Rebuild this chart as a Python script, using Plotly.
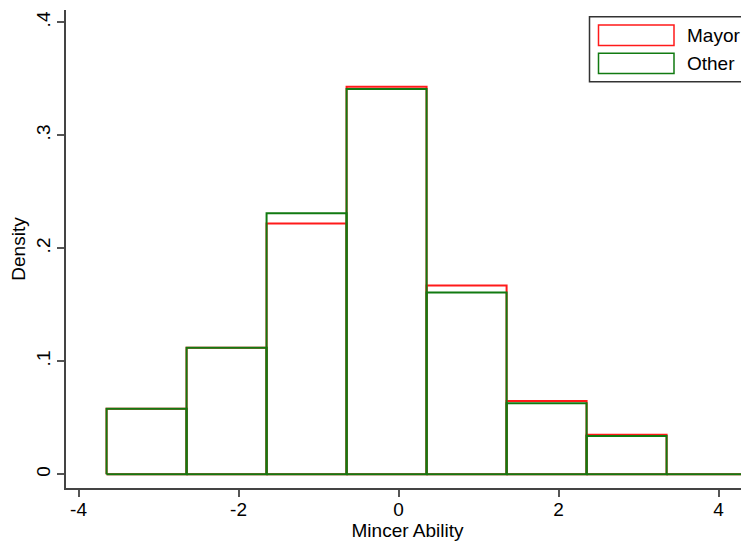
import plotly.graph_objects as go

# ---- data ----
bin_edges = [-3.65, -2.65, -1.65, -0.65, 0.35, 1.35, 2.35, 3.35, 4.35]
mayor_density = [0.058, 0.112, 0.222, 0.343, 0.167, 0.065, 0.035, 0.0]
other_density = [0.058, 0.112, 0.231, 0.341, 0.161, 0.063, 0.034, 0.0]
series_names = ["Mayor", "Other"]
series_colors = ["#ff1a1a", "#117a11"]
x_tick_vals = [-4, -2, 0, 2, 4]
x_tick_text = ["-4", "-2", "0", "2", "4"]
y_tick_vals = [0, 0.1, 0.2, 0.3, 0.4]
y_tick_text = ["0", ".1", ".2", ".3", ".4"]

FONT = "Liberation Sans, Arial, Helvetica, sans-serif"
FS = 19

# page has an 8px body margin: figure starts at (8, 8) in the screenshot
OFF = 8
W, H = 741, 536
ML, MR, MT, MB = 58, 0, 2, 56
PX0, PX1 = ML + OFF, W - MR + OFF          # plot area in screenshot px
PY0, PY1 = MT + OFF, H - MB + OFF


def outline(edges, dens):
    xs, ys = [], []
    for i, d in enumerate(dens):
        l, r = edges[i], edges[i + 1]
        xs += [l, l, r, r, l, None]
        ys += [0, d, d, 0, 0, None]
    return xs, ys


fig = go.Figure()
for name, dens, col in zip(series_names, [mayor_density, other_density], series_colors):
    xs, ys = outline(bin_edges, dens)
    fig.add_trace(go.Scatter(x=xs, y=ys, mode="lines", name=name,
                             line=dict(color=col, width=2), showlegend=False,
                             hoverinfo="skip", cliponaxis=False))


def px(x):
    return (x - PX0) / (PX1 - PX0)


def py(y):
    return 1 - (y - PY0) / (PY1 - PY0)


# manual Stata-style legend
shapes = [dict(type="rect", xref="paper", yref="paper",
               x0=px(589.5), x1=px(752), y0=py(81.7), y1=py(16.7),
               line=dict(color="#333", width=1.5), fillcolor="white", layer="above")]
annotations = []
rows = [(25, 45.5), (53.3, 73.5)]
for (t, b), name, col in zip(rows, series_names, series_colors):
    shapes.append(dict(type="rect", xref="paper", yref="paper",
                       x0=px(598.5), x1=px(674), y0=py(b), y1=py(t),
                       line=dict(color=col, width=1.5), fillcolor="white", layer="above"))
    annotations.append(dict(xref="paper", yref="paper", x=px(685), y=py((t + b) / 2),
                            text=name, showarrow=False, xanchor="left", yanchor="middle",
                            font=dict(family=FONT, size=FS, color="black")))

fig.update_layout(
    width=W, height=H,
    margin=dict(l=ML, r=MR, t=MT, b=MB, pad=0),
    paper_bgcolor="white", plot_bgcolor="white",
    shapes=shapes, annotations=annotations,
    font=dict(family=FONT, size=FS, color="black"),
    showlegend=False,
)
fig.update_xaxes(range=[-4.157, 4.38], tickvals=x_tick_vals, ticktext=x_tick_text,
                 showgrid=False, zeroline=False, showline=True, linecolor="#444",
                 linewidth=1.5, ticks="outside", ticklen=7, tickcolor="#555",
                 tickwidth=1.5, tickfont=dict(size=FS), ticklabelstandoff=-4,
                 title=dict(text="Mincer Ability", font=dict(size=FS), standoff=3))
fig.update_yaxes(range=[-0.0121, 0.4109], tickvals=y_tick_vals, ticktext=y_tick_text,
                 showgrid=False, zeroline=False, showline=True, linecolor="#444",
                 linewidth=1.5, ticks="outside", ticklen=7, tickcolor="#555",
                 tickwidth=1.5, tickangle=-90, tickfont=dict(size=FS),
                 title=dict(text="Density", font=dict(size=FS), standoff=4))

fig.write_html("out.html")
